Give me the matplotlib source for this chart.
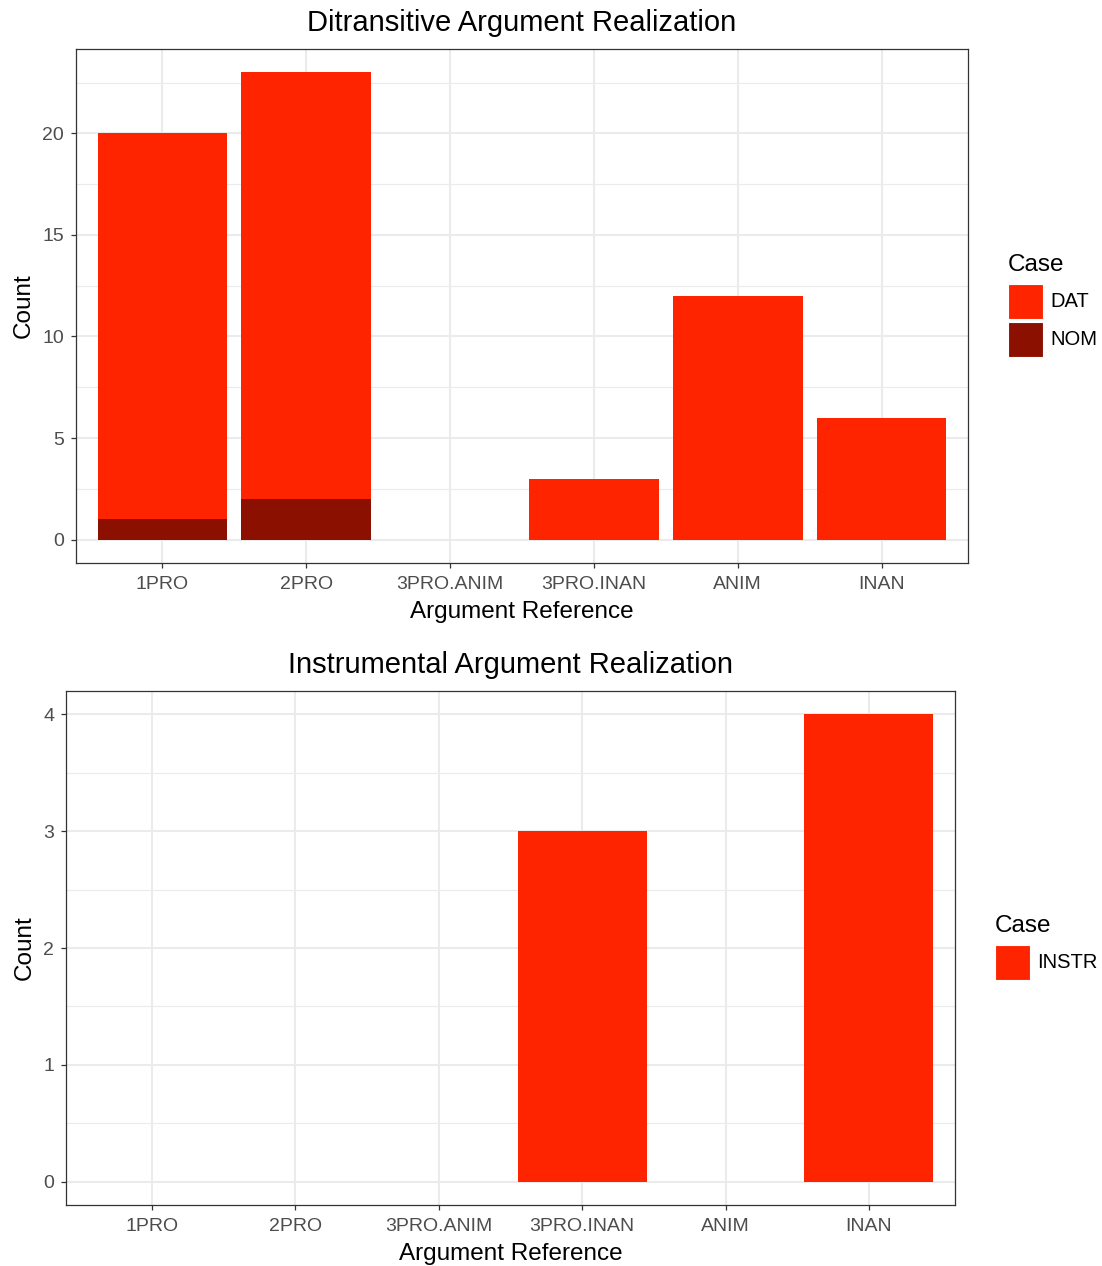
import matplotlib.pyplot as plt
from matplotlib.patches import Rectangle
import numpy as np

plt.rcParams['font.family'] = ['Liberation Sans', 'DejaVu Sans']

# data
categories = ['1PRO', '2PRO', '3PRO.ANIM', '3PRO.INAN', 'ANIM', 'INAN']
ditr_nom = [1, 2, 0, 0, 0, 0]
ditr_dat = [19, 21, 0, 3, 12, 6]
instr = [0, 0, 0, 3, 0, 4]

c_dat = '#FF2400'
c_nom = '#8B1000'
grid_c = '#EBEBEB'

W, H = 1102, 1266
fig = plt.figure(figsize=(W / 100, H / 100), dpi=100)


def style(ax, ymax, major, minor):
    x = np.arange(len(categories))
    ax.set_xticks(x)
    ax.set_xticklabels(categories)
    ax.set_xlim(-0.6, len(categories) - 0.4)
    ax.set_ylim(-0.05 * ymax, 1.05 * ymax)
    ax.set_yticks(major)
    ax.set_yticks(minor, minor=True)
    ax.grid(True, which='major', color=grid_c, lw=1.5)
    ax.grid(True, which='minor', axis='y', color=grid_c, lw=0.8)
    ax.set_axisbelow(True)
    for s in ax.spines.values():
        s.set_color('#333333')
        s.set_linewidth(0.9)
    ax.tick_params(axis='both', which='major', length=3.5, width=0.9, color='#333333',
                   labelcolor='#4D4D4D', labelsize=14, pad=5)
    ax.tick_params(axis='x', which='major', pad=6)
    ax.tick_params(axis='y', which='minor', length=0)
    ax.set_xlabel('Argument Reference', fontsize=17.5)
    ax.set_ylabel('Count', fontsize=17.5)
    ax.xaxis.set_label_coords(0.5, -0.073)


def legend_box(x, y, title, labels, colors):
    # x, y: pixel coords of first key's top-left corner
    fig.text(x / W, 1 - (y - 8) / H, title, fontsize=17.5, va='bottom', ha='left')
    for i, (lab, col) in enumerate(zip(labels, colors)):
        top = y + i * 38
        fig.add_artist(Rectangle((x / W, 1 - (top + 35) / H), 35 / W, 35 / H,
                                 transform=fig.transFigure, facecolor=col,
                                 edgecolor='white', lw=0.8))
        fig.text((x + 42) / W, 1 - (top + 17.5) / H, lab, fontsize=14.5,
                 va='center', ha='left')


# top panel: ditransitive
ax1 = fig.add_axes([76 / W, 1 - 563 / H, 892 / W, 514 / H])
x = np.arange(len(categories))
ax1.bar(x, ditr_nom, width=0.9, color=c_nom)
ax1.bar(x, ditr_dat, width=0.9, bottom=ditr_nom, color=c_dat)
style(ax1, 23, [0, 5, 10, 15, 20], [2.5, 7.5, 12.5, 17.5, 22.5])
ax1.set_title('Ditransitive Argument Realization', fontsize=21, pad=13)
ax1.yaxis.set_label_coords(-0.046, 0.5)
legend_box(1008, 284, 'Case', ['DAT', 'NOM'], [c_dat, c_nom])

# bottom panel: instrumental
ax2 = fig.add_axes([66 / W, 1 - 1205 / H, 889 / W, 514 / H])
ax2.bar(x, instr, width=0.9, color=c_dat)
style(ax2, 4, [0, 1, 2, 3, 4], [0.5, 1.5, 2.5, 3.5])
ax2.set_title('Instrumental Argument Realization', fontsize=21, pad=13)
ax2.yaxis.set_label_coords(-0.034, 0.5)
legend_box(995, 945, 'Case', ['INSTR'], [c_dat])

fig.savefig('out.png', dpi=100)
